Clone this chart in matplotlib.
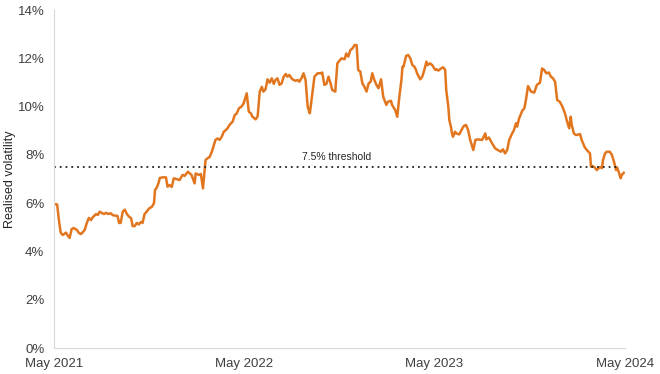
import matplotlib
matplotlib.use("Agg")
import matplotlib.pyplot as plt
import pandas as pd
from matplotlib.ticker import FuncFormatter

plt.rcParams['font.family'] = ['Liberation Sans', 'DejaVu Sans']

# Realised volatility (%)
dates = [
    "2021-05-03", "2021-05-07", "2021-05-11", "2021-05-14", "2021-05-18", "2021-05-24",
    "2021-05-28", "2021-05-31", "2021-06-04", "2021-06-08", "2021-06-14", "2021-06-18",
    "2021-06-22", "2021-06-26", "2021-06-29", "2021-07-03", "2021-07-07", "2021-07-11",
    "2021-07-15", "2021-07-21", "2021-07-24", "2021-07-28", "2021-08-01", "2021-08-05",
    "2021-08-09", "2021-08-13", "2021-08-18", "2021-08-22", "2021-08-28", "2021-08-31",
    "2021-09-03", "2021-09-06", "2021-09-10", "2021-09-14", "2021-09-18", "2021-09-22",
    "2021-09-26", "2021-09-29", "2021-10-03", "2021-10-07", "2021-10-11", "2021-10-15",
    "2021-10-18", "2021-10-22", "2021-10-26", "2021-10-30", "2021-11-05", "2021-11-09",
    "2021-11-11", "2021-11-14", "2021-11-18",
    "2021-11-20", "2021-11-26", "2021-12-02", "2021-12-05", "2021-12-09", "2021-12-13",
    "2021-12-17", "2021-12-23", "2021-12-28", "2022-01-03", "2022-01-07", "2022-01-13",
    "2022-01-17", "2022-01-20", "2022-01-26", "2022-01-28", "2022-02-03", "2022-02-07",
    "2022-02-11", "2022-02-13", "2022-02-16", "2022-02-20", "2022-02-24", "2022-02-28",
    "2022-03-04", "2022-03-07", "2022-03-11", "2022-03-15", "2022-03-19", "2022-03-23",
    "2022-03-27", "2022-03-30", "2022-04-03", "2022-04-09", "2022-04-13", "2022-04-17",
    "2022-04-21", "2022-04-26", "2022-04-30", "2022-05-06", "2022-05-10", "2022-05-14",
    "2022-05-17", "2022-05-23", "2022-05-27", "2022-05-31", "2022-06-04",
    "2022-06-07", "2022-06-11", "2022-06-15", "2022-06-19", "2022-06-23", "2022-06-27",
    "2022-06-30", "2022-07-04", "2022-07-08", "2022-07-12", "2022-07-16", "2022-07-20",
    "2022-07-23", "2022-07-27", "2022-07-31", "2022-08-04", "2022-08-08", "2022-08-12",
    "2022-08-15", "2022-08-19", "2022-08-23", "2022-08-27", "2022-08-31", "2022-09-04",
    "2022-09-05", "2022-09-09", "2022-09-13", "2022-09-19", "2022-09-25", "2022-09-28",
    "2022-10-02", "2022-10-06", "2022-10-10", "2022-10-14", "2022-10-17", "2022-10-23",
    "2022-10-27", "2022-10-31", "2022-11-04", "2022-11-10", "2022-11-13", "2022-11-17",
    "2022-11-21", "2022-11-25", "2022-11-29", "2022-12-03", "2022-12-06",
    "2022-12-10", "2022-12-14", "2022-12-18", "2022-12-22", "2022-12-26", "2022-12-30",
    "2023-01-02", "2023-01-06", "2023-01-10", "2023-01-14", "2023-01-19", "2023-01-23",
    "2023-01-29", "2023-02-01", "2023-02-07", "2023-02-09", "2023-02-15", "2023-02-19",
    "2023-02-23", "2023-02-27", "2023-03-01", "2023-03-03", "2023-03-08", "2023-03-12",
    "2023-03-16", "2023-03-20", "2023-03-24", "2023-03-27", "2023-03-29", "2023-04-04",
    "2023-04-08", "2023-04-12", "2023-04-16", "2023-04-18", "2023-04-23", "2023-04-27",
    "2023-05-03", "2023-05-05", "2023-05-09", "2023-05-14", "2023-05-18", "2023-05-22",
    "2023-05-24", "2023-05-28", "2023-05-30", "2023-06-02", "2023-06-04", "2023-06-06",
    "2023-06-10",
    "2023-06-12", "2023-06-18", "2023-06-24", "2023-06-27", "2023-07-01", "2023-07-05",
    "2023-07-09", "2023-07-15", "2023-07-19", "2023-07-24", "2023-08-01", "2023-08-07",
    "2023-08-09", "2023-08-14", "2023-08-20", "2023-08-26", "2023-08-31", "2023-09-06",
    "2023-09-10", "2023-09-14", "2023-09-18", "2023-09-22", "2023-09-26", "2023-10-01",
    "2023-10-05", "2023-10-07", "2023-10-11", "2023-10-17", "2023-10-21", "2023-10-24",
    "2023-10-28", "2023-11-03", "2023-11-09", "2023-11-14", "2023-11-20", "2023-11-24",
    "2023-11-28", "2023-12-02", "2023-12-07", "2023-12-11", "2023-12-15", "2023-12-19",
    "2023-12-23", "2023-12-28", "2024-01-02", "2024-01-07", "2024-01-11", "2024-01-15",
    "2024-01-18", "2024-01-20", "2024-01-24", "2024-01-28", "2024-02-05", "2024-02-08",
    "2024-02-14", "2024-02-18", "2024-02-24", "2024-02-26", "2024-02-29", "2024-03-04",
    "2024-03-08", "2024-03-14", "2024-03-18", "2024-03-20", "2024-03-24", "2024-03-27",
    "2024-04-02", "2024-04-06", "2024-04-10", "2024-04-14", "2024-04-16", "2024-04-19",
    "2024-04-23", "2024-04-25", "2024-04-29",
]
vol = [
    5.95, 5.95, 5.20, 4.77, 4.68, 4.78,
    4.64, 4.56, 4.93, 4.97, 4.89, 4.76,
    4.72, 4.82, 4.89, 5.18, 5.39, 5.30,
    5.43, 5.55, 5.51, 5.65, 5.59, 5.55,
    5.60, 5.55, 5.58, 5.50, 5.48, 5.47,
    5.18, 5.18, 5.65, 5.73, 5.55, 5.44,
    5.38, 5.05, 5.05, 5.18, 5.12, 5.22,
    5.18, 5.55, 5.65, 5.77, 5.85, 6.00,
    6.55, 6.63, 6.85,
    7.04, 7.07, 7.07, 6.68, 6.75, 6.67,
    7.03, 6.99, 6.96, 7.17, 7.13, 7.30,
    7.23, 7.17, 6.82, 7.23, 7.17, 7.21,
    6.61, 7.10, 7.79, 7.86, 7.92, 8.13,
    8.41, 8.62, 8.68, 8.62, 8.75, 8.96,
    9.03, 9.10, 9.24, 9.38, 9.65, 9.72,
    9.93, 10.00, 10.13, 10.55, 9.79, 9.72,
    9.58, 9.47, 9.60, 10.62, 10.82,
    10.62, 10.71, 11.13, 10.99, 11.17, 10.94,
    11.10, 11.17, 10.90, 10.96, 11.24, 11.35,
    11.24, 11.31, 11.17, 11.10, 11.07, 11.10,
    11.03, 11.17, 11.38, 11.10, 10.00, 9.72,
    9.86, 10.55, 11.24, 11.38, 11.38, 11.41,
    10.90, 10.94, 11.24, 10.96, 10.69, 10.62,
    11.79, 11.90, 12.00, 11.96, 12.20, 12.07,
    12.34, 12.41, 12.55, 12.55, 11.52,
    11.45, 10.96, 10.82, 10.62, 10.96, 11.03,
    11.38, 11.10, 10.90, 10.76, 11.13, 10.41,
    10.07, 10.20, 10.24, 10.07, 9.86, 9.58,
    10.41, 11.10, 11.65, 11.65, 12.10, 12.14,
    12.00, 11.72, 11.65, 11.52, 11.38, 11.13,
    11.24, 11.52, 11.86, 11.72, 11.79, 11.72,
    11.52, 11.55, 11.49, 11.58, 11.63, 11.52,
    10.69, 10.00, 9.44, 9.17, 8.89, 8.75,
    8.96,
    8.89, 8.85, 9.10, 9.20, 9.24, 9.03,
    8.62, 8.20, 8.62, 8.64, 8.62, 8.89,
    8.64, 8.72, 8.48, 8.27, 8.20, 8.13,
    8.23, 8.06, 8.20, 8.62, 8.82, 9.03,
    9.31, 9.17, 9.51, 9.83, 9.93, 10.27,
    10.85, 10.62, 10.58, 10.90, 10.99, 11.58,
    11.52, 11.38, 11.41, 11.24, 11.17, 11.03,
    10.27, 10.20, 10.00, 9.72, 9.38, 9.10,
    9.58, 9.24, 8.89, 8.82, 8.86, 8.62,
    8.31, 8.20, 8.06, 7.51, 7.54, 7.48,
    7.37, 7.50, 7.45, 7.79, 8.06, 8.13,
    8.13, 8.00, 7.72, 7.37, 7.48, 7.30,
    7.03, 7.17, 7.26,
]

threshold = 7.5
threshold_label = "7.5% threshold"
tick_dates = ["2021-05-01", "2022-05-01", "2023-05-01", "2024-05-01"]
tick_labels = ["May 2021", "May 2022", "May 2023", "May 2024"]
y_ticks = [0, 2, 4, 6, 8, 10, 12, 14]

x = pd.to_datetime(dates)
ticks = pd.to_datetime(tick_dates)

fig = plt.figure(figsize=(6.6, 3.74), dpi=100)
ax = fig.add_axes([0.0818, 0.0695, 0.865, 0.9037])

ax.plot(x, vol, color="#E2761F", linewidth=1.8, solid_joinstyle="round")
ax.axhline(threshold, xmin=0.0, xmax=0.992, color="#222222", linestyle=(0, (1, 2.2)),
           linewidth=1.3)
ax.text(pd.Timestamp("2022-10-26"), threshold + 0.2, threshold_label, ha="center",
        va="bottom", fontsize=7.5, color="#262626")

ax.set_xlim(ticks[0], ticks[-1])
ax.set_ylim(0, 14)
ax.set_xticks(ticks)
ax.set_xticklabels(tick_labels)
ax.set_yticks(y_ticks)
ax.yaxis.set_major_formatter(FuncFormatter(lambda v, _: f"{v:.0f}%"))
ax.set_ylabel("Realised volatility", fontsize=9, color="#262626")
ax.yaxis.set_label_coords(-0.066, 0.5)

ax.tick_params(axis="both", length=0, labelsize=9.5, colors="#404040")
ax.tick_params(axis="y", pad=7)
ax.tick_params(axis="x", pad=7)
for side in ["top", "right"]:
    ax.spines[side].set_visible(False)
for side in ["left", "bottom"]:
    ax.spines[side].set_color("#d9d9d9")
    ax.spines[side].set_linewidth(0.8)

fig.savefig("out.png", dpi=100)
